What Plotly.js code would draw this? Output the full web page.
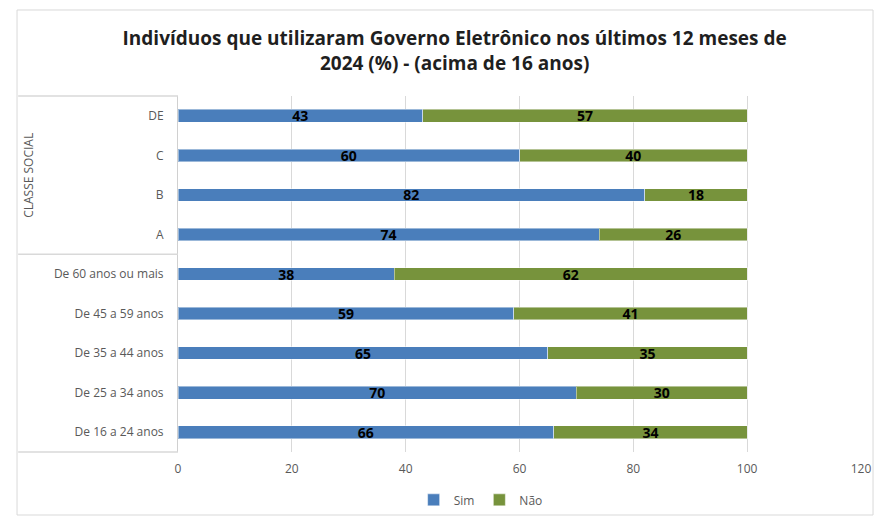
<!DOCTYPE html>
<html>
<head>
<meta charset="utf-8">
<script src="https://cdn.plot.ly/plotly-3.0.1.min.js"></script>
<style>html,body{margin:0;padding:0;background:#fff;}#chart{width:876px;height:518px;}</style>
</head>
<body>
<div id="chart"></div>
<script>
var categories = ["DE", "C", "B", "A", "De 60 anos ou mais", "De 45 a 59 anos", "De 35 a 44 anos", "De 25 a 34 anos", "De 16 a 24 anos"];
var simValues = [43, 60, 82, 74, 38, 59, 65, 70, 66];
var naoValues = [57, 40, 18, 26, 62, 41, 35, 30, 34];
var seriesNames = ["Sim", "Não"];
var xTicks = [0, 20, 40, 60, 80, 100, 120];
var groupLabel = "CLASSE SOCIAL";
var titleText = "Indivíduos que utilizaram Governo Eletrônico nos últimos 12 meses de<br>2024 (%) - (acima de 16 anos)";

var FONT = "Open Sans, Liberation Sans, sans-serif";
var labelFont = {family: FONT, size: 14, color: "#000000", weight: 700};

function barTrace(name, vals, color) {
  return {
    type: "bar", orientation: "h", name: name,
    y: categories, x: vals,
    text: vals.map(String), textposition: "inside", insidetextanchor: "middle",
    textangle: 0, constraintext: "none", cliponaxis: false,
    textfont: labelFont,
    marker: {color: color, line: {color: "rgba(255,255,255,0.45)", width: 1}},
    width: 0.32, hoverinfo: "x+y+name"
  };
}

var data = [
  barTrace(seriesNames[0], simValues, "#4a7ebb"),
  barTrace(seriesNames[1], naoValues, "#77933c")
];

var layout = {
  width: 876, height: 518,
  margin: {l: 178, r: 15, t: 96, b: 66, autoexpand: false},
  paper_bgcolor: "#ffffff", plot_bgcolor: "#ffffff",
  barmode: "stack",
  font: {family: FONT, size: 12, color: "#595959"},
  title: {text: titleText, x: 0.519, xref: "container", xanchor: "center", y: 0.9125, yanchor: "top",
          font: {family: FONT, size: 19, color: "#1f1f1f", weight: 700}},
  xaxis: {range: [0, 120], tickvals: xTicks, ticktext: xTicks.map(String), showgrid: true,
          gridcolor: "#d9d9d9", gridwidth: 1, zeroline: false, showline: false, ticks: "",
          ticklabelstandoff: 8, automargin: false,
          tickfont: {family: FONT, size: 12, color: "#595959"}, fixedrange: true},
  yaxis: {type: "category", range: [8.5, -0.5], showgrid: false, zeroline: false,
          showline: true, linecolor: "#d0d0d0", linewidth: 1, ticks: "", ticklabelstandoff: 11,
          automargin: false,
          tickfont: {family: FONT, size: 12, color: "#595959"}, fixedrange: true},
  showlegend: true,
  legend: {orientation: "h", x: 0.345, xanchor: "left", yref: "container", y: 0.035, yanchor: "middle",
           font: {family: FONT, size: 12, color: "#595959"}, traceorder: "normal",
           itemwidth: 30, tracegroupgap: 0},
  shapes: [
    {type: "rect", xref: "paper", yref: "paper", x0: -0.2357, x1: 1.0176, y0: -0.177, y1: 1.2416,
     line: {color: "#d9d9d9", width: 1}, fillcolor: "rgba(0,0,0,0)", layer: "below"},
    {type: "line", xref: "paper", yref: "paper", x0: -0.234, x1: 0, y0: 1, y1: 1, line: {color: "#d9d9d9", width: 1.5}},
    {type: "line", xref: "paper", yref: "y", x0: -0.234, x1: 0, y0: 3.5, y1: 3.5, line: {color: "#d9d9d9", width: 1.5}},
    {type: "line", xref: "paper", yref: "paper", x0: -0.234, x1: 0, y0: 0, y1: 0, line: {color: "#d9d9d9", width: 1.5}}
  ],
  annotations: [
    {text: groupLabel, xref: "paper", yref: "y", x: -0.22, y: 1.5, textangle: -90, showarrow: false,
     xanchor: "center", yanchor: "middle", font: {family: FONT, size: 12, color: "#595959"}}
  ]
};

Plotly.newPlot("chart", data, layout, {displayModeBar: false, staticPlot: true});
</script>
</body>
</html>
